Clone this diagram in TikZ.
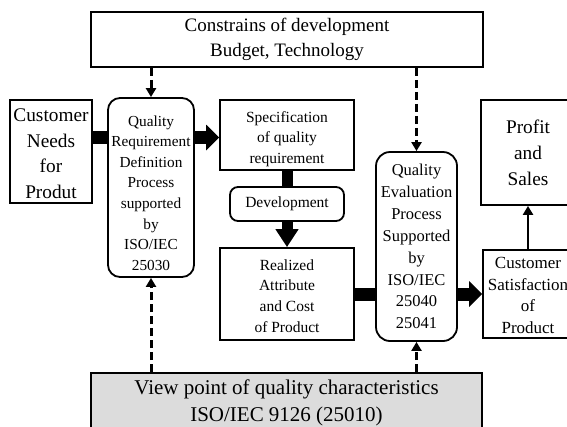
\documentclass[tikz,border=0pt]{standalone}
\usepackage{fontspec}
\setmainfont{Liberation Serif}
\usetikzlibrary{arrows.meta,calc}
\definecolor{boxgray}{HTML}{DCDCDC}
\newcommand{\fs}[2]{\fontsize{#1}{#2}\selectfont}
\tikzset{
  box/.style={draw=black, line width=1.8pt, align=center, inner sep=0pt, fill=white},
  rbox/.style={box, rounded corners=12pt},
  txt/.style={align=center, inner sep=0pt},
  fat/.style={line width=13pt},
  fatarrow/.style={line width=13pt, -{Triangle[length=13pt,width=25pt]}},
  dasharrow/.style={line width=3pt, dash pattern=on 8pt off 4pt, -{Triangle[length=9pt,width=10pt]}},
  thinarrow/.style={line width=2.6pt, -{Triangle[length=9pt,width=10pt]}},
}
\begin{document}
\begin{tikzpicture}[x=1pt,y=-1pt]
\useasboundingbox (0,0) rectangle (567,426);
\clip (0,0) rectangle (567,426);
% nodes
\node[box, font=\fs{19}{25}, minimum width=392pt, minimum height=55pt] (top) at (287,39.5)
  {Constrains of development\\Budget, Technology};
\node[box, minimum width=82pt, minimum height=103pt] (cn) at (51,151.5) {};
\node[txt, font=\fs{19.3}{25.5}] (cnt) at (51,153.5) {Customer\\Needs\\for\\Produt};
\node[rbox, minimum width=86pt, minimum height=179pt] (qr) at (151,187.5) {};
\node[txt, font=\fs{15.3}{20.6}] (qrt) at (151,193)
  {Quality\\Requirement\\Definition\\Process\\supported\\by\\ISO/IEC\\25030};
\node[box, minimum width=134pt, minimum height=70pt] (spec) at (287,135) {};
\node[txt, font=\fs{15.5}{20.5}] (spect) at (287,139) {Specification\\of quality\\requirement};
\node[rbox, rounded corners=8pt, font=\fs{15.5}{20}, minimum width=114pt, minimum height=34pt] (dev) at (287,204)
  {Development};
\node[box, minimum width=134pt, minimum height=92pt] (real) at (287,294) {};
\node[txt, font=\fs{15.5}{20.7}] (realt) at (287,296) {Realized\\Attribute\\and Cost\\of Product};
\node[rbox, rounded corners=14pt, font=\fs{16.5}{21.9}, minimum width=81pt, minimum height=189pt] (qe) at (416.5,246.5)
  {Quality\\Evaluation\\Process\\Supported\\by\\ISO/IEC\\25040\\25041};
\node[box, minimum width=90pt, minimum height=88pt] (cs) at (528,294) {};
\node[txt, font=\fs{17}{21.7}] (cst) at (528,295.5) {Customer\\Satisfaction\\of\\Product};
\node[box, font=\fs{19.3}{26}, minimum width=94pt, minimum height=105pt] (ps) at (528,152.5)
  {Profit\\and\\Sales};
\node[box, fill=boxgray, minimum width=391pt, minimum height=64pt] (bot) at (286.5,405) {};
\node[txt, font=\fs{21}{27}] (bott) at (286.5,402.5)
  {View point of quality characteristics\\ISO/IEC 9126 (25010)};
% levels
\coordinate (y1) at (0,137.5);
\coordinate (y2) at (0,294);
% thick connectors
\draw[fat] (cn.east |- y1) -- (qr.west |- y1);
\draw[fatarrow] (qr.east |- y1) -- (spec.west |- y1);
\draw[line width=11pt] (spec.south) -- (dev.north);
\draw[line width=11pt, -{Triangle[length=18pt,width=22pt]}] (dev.south) -- (real.north);
\draw[fat] (real.east |- y2) -- (qe.west |- y2);
\draw[fatarrow] (qe.east |- y2) -- (cs.west |- y2);
\draw[thinarrow] (cs.north) -- (ps.south);
% dashed
\draw[dasharrow] (top.south -| qr.north) -- (qr.north);
\draw[dasharrow] (top.south -| qe.north) -- (qe.north);
\draw[dasharrow] (bot.north -| qr.south) -- (qr.south);
\draw[dasharrow] (bot.north -| qe.south) -- (qe.south);
\end{tikzpicture}
\end{document}
